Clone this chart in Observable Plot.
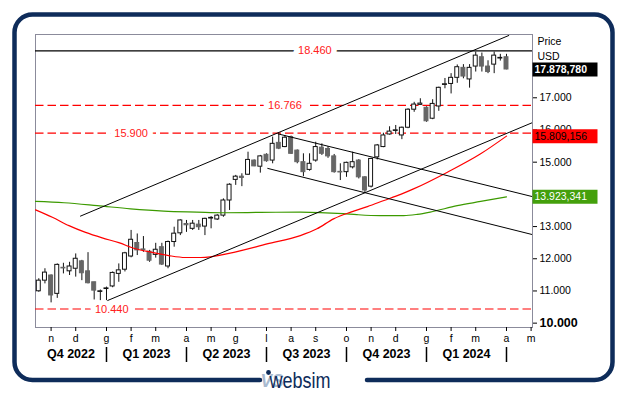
<!DOCTYPE html>
<html><head><meta charset="utf-8">
<script src="https://cdn.jsdelivr.net/npm/d3@7"></script>
<script src="https://cdn.jsdelivr.net/npm/@observablehq/plot@0.6"></script>
<style>
html,body{margin:0;padding:0;background:#fff;}
#chart{width:627px;height:394px;overflow:hidden;}
</style></head><body><div id="chart"></div>
<script>
// ---- data (weekly candles, Friday dates, starting 2022-10-21) ----
const firstWeek = "2022-10-21";
const open  = [10990,11320,11480,10910,11720,11610,11690,11920,11610,11270,10970,11060,11140,11530,11660,12070,12490,12290,12220,12120,12360,11760,12520,12790,13080,12930,13060,13000,13250,13220,13340,13810,14450,14550,14610,15050,14860,15230,15050,15600,15470,15780,15360,15000,14760,15050,15450,15410,15180,14700,14690,14840,15050,14530,14240,15150,15470,15860,15970,15830,16070,16630,16780,16690,16350,16730,17400,17430,17620,17930,17570,17970,18260,17970,18030,18220,18260];
const high  = [11380,11690,11500,11840,11860,11890,12150,11950,12190,11270,11030,11120,11590,11840,12200,12880,12770,12690,12260,12480,12480,12550,12980,13210,13190,13190,13190,13260,13310,13370,13860,14330,14590,14640,15310,15070,15210,15260,15780,15880,15830,15810,15380,15260,15260,15620,15570,15480,15240,14950,15000,15310,15080,14550,15120,15550,15900,16100,16140,16090,16660,16860,16970,16720,16940,17330,17600,17750,18020,18030,18030,18420,18390,18150,18420,18350,18350];
const low   = [10960,11220,10630,10770,11530,11480,11430,11320,11220,10720,10700,10700,11100,11270,11590,12030,12100,12200,11890,12020,11790,11690,12360,12720,12820,12880,12880,12720,12930,13190,13290,13500,14280,14240,14590,14860,14660,15000,14950,15390,15450,15240,14950,14550,14720,15000,15210,15120,14660,14430,14530,14790,14480,14040,14200,15070,15450,15840,15860,15700,16040,16550,16760,16240,16320,16580,17280,17120,17450,17590,17300,17800,17800,17750,17750,18140,17870];
const close = [11320,11570,10860,11810,11700,11760,12000,11550,11240,11010,10990,11080,11560,11640,12170,12590,12260,12270,11940,12280,11820,12520,12780,13190,13040,13090,12980,13240,13270,13340,13810,14300,14550,14510,15070,14870,15180,15030,15570,15420,15760,15260,15000,14690,14950,15470,15260,15180,14690,14680,14980,15000,14530,14120,15100,15520,15830,15950,15990,16070,16630,16790,16820,16270,16810,17310,17420,17620,17950,17660,17930,18310,17970,17800,18310,18240,17878.78];

// moving averages (week offset from first candle, value)
const redWeeks   = [-0.54,2.2,4.9,7.6,10.3,13,15.7,18.4,21.1,23.8,26.3,31.7,37.1,42.5,45.2,47.9,50.7,53.4,56.1,58.8,60.9,66.4,71.8,76];
const redValues  = [13520,13290,13030,12820,12650,12500,12310,12200,12100,12040,12040,12200,12460,12720,12930,13240,13450,13620,13810,14000,14170,14690,15260,15809.156];
const greenWeeks  = [-0.54,4.1,9.5,14.9,20.3,25.7,30,36,42.5,49.5,51.7,55.5,59.3,61.5,63.6,68,71.8,76];
const greenValues = [13780,13740,13650,13550,13480,13450,13430,13440,13450,13400,13370,13340,13340,13380,13450,13650,13780,13923.341];

// trend lines
const trendStart  = ["2022-12-07","2023-01-07","2023-07-20","2023-07-08"];
const trendStartV = [13320,10700,15880,14810];
const trendEnd    = ["2024-04-08","2024-05-04T14:00","2024-05-04T14:00","2024-05-04T14:00"];
const trendEndV   = [18940,16230,13930,12750];

// horizontal levels
const levelValues = [18460,16766,15900,10440];
const levelLabelDates = ["2023-08-31","2023-07-28","2023-02-03","2023-01-12"];
const levelColors = ["#000000","#ff0000","#ff0000","#ff0000"];
const levelDash = [null,"8.5,4","8.5,4","8.5,4"];

// axis
const yTicks = [11000,12000,13000,15000,16000,17000];
const yTickBold = [10000];
const monthDates = ["2022-11-04","2022-12-02","2023-01-06","2023-02-03","2023-03-03","2023-04-07","2023-05-05","2023-06-02","2023-07-07","2023-08-04","2023-09-01","2023-10-06","2023-11-03","2023-12-01","2024-01-05","2024-02-02","2024-03-01","2024-04-05","2024-05-03"];
const monthLetters = ["n","d","g","f","m","a","m","g","l","a","s","o","n","d","g","f","m","a","m"];
const quarterLabels = ["Q4 2022","Q1 2023","Q2 2023","Q3 2023","Q4 2023","Q1 2024"];
const quarterBreaks = ["2023-01-06","2023-04-07","2023-07-07","2023-10-06","2024-01-05","2024-04-05"];

// right-side value boxes
const boxValues = [17878.78, 15809.156, 13923.341];
const boxFill = ["#000000","#ff0000","#44a00c"];
const boxText = ["#ffffff","#000000","#ffffff"];
const boxWeight = ["bold","normal","normal"];

// ---- build ----
const it = d3.formatLocale({decimal:",", thousands:".", grouping:[3], currency:["","€"]});
const fmt0 = it.format(",.0f"), fmt3 = it.format(",.3f");
const start = new Date(firstWeek);
const candles = open.map((o,i)=>({date: d3.utcDay.offset(start, 7*i), open:o, high:high[i], low:low[i], close:close[i]}));
const wk = w => new Date(+start + w*7*864e5);
const redMA = redWeeks.map((w,i)=>({date: wk(w), v: redValues[i]}));
const greenMA = greenWeeks.map((w,i)=>({date: wk(w), v: greenValues[i]}));
const trends = trendStart.map((s,i)=>({x1:new Date(s), y1:trendStartV[i], x2:new Date(trendEnd[i]), y2:trendEndV[i]}));
const levels = levelValues.map((v,i)=>({v, date:new Date(levelLabelDates[i]), color:levelColors[i], dash:levelDash[i]}));
const xDomain = [new Date("2022-10-17T06:00Z"), new Date("2024-05-04T14:00Z")];
const mTimes = monthDates.map(d=>+new Date(d));
const letterBy = new Map(mTimes.map((t,i)=>[t, monthLetters[i]]));
const qb = quarterBreaks.map(d=>new Date(d));
const quarters = quarterLabels.map((label,i)=>{
  const a = i===0 ? xDomain[0] : qb[i-1], b = qb[i];
  return {label, mid: new Date((+a + +b)/2)};
});
const up = d => d.close >= d.open;

const marks = [
  Plot.frame({stroke:"#8b8b9b"}),
  Plot.axisX({ticks: mTimes.map(t=>new Date(t)), tickFormat: d=>letterBy.get(+d), tickSize:4, tickPadding:3, label:null, fontSize:10.5}),
  Plot.axisY({anchor:"right", ticks:yTicks, tickFormat:fmt0, tickSize:4, tickPadding:3, label:null, fontSize:10.5}),
  Plot.axisY({anchor:"right", ticks:yTickBold, tickFormat:fmt0, tickSize:4, tickPadding:3, label:null, fontSize:12.5, fontWeight:"bold"}),
  Plot.ruleX(qb, {x:d=>d, insetTop:313, insetBottom:-35, stroke:"#000", strokeWidth:1.5}),
  Plot.text(quarters, {x:"mid", text:"label", frameAnchor:"bottom", dy:26, lineAnchor:"middle", fontWeight:"bold", fontSize:12.5}),
  Plot.text(["Price"], {text:d=>d, frameAnchor:"top-right", dx:5, dy:7, lineAnchor:"middle", textAnchor:"start", fontSize:10.5}),
  Plot.text(["USD"], {text:d=>d, frameAnchor:"top-right", dx:5, dy:22.5, lineAnchor:"middle", textAnchor:"start", fontSize:10.5}),
  ...levels.map(l => Plot.ruleY([l.v], {stroke:l.color, strokeWidth:1.2, strokeDasharray:l.dash})),
  Plot.text(levels, {x:"date", y:"v", text:d=>fmt0(d.v), fill:"#ff2020", stroke:"white", strokeWidth:11, fontSize:11}),
  Plot.ruleX(candles, {x:"date", y1:"low", y2:"high", stroke:"#111", strokeWidth:1}),
  Plot.rect(candles, {x1:d=>d3.utcHour.offset(d.date,-54), x2:d=>d3.utcHour.offset(d.date,54), y1:"open", y2:"close",
    fill:d=>up(d)?"#ffffff":"#666666", stroke:d=>up(d)?"#111111":"#666666", strokeWidth:1}),
  Plot.line(greenMA, {x:"date", y:"v", stroke:"#3c9a00", strokeWidth:1.2, curve:"monotone-x", clip:true}),
  Plot.line(redMA, {x:"date", y:"v", stroke:"#ff0000", strokeWidth:1.2, curve:"monotone-x", clip:true}),
  Plot.link(trends, {x1:"x1", y1:"y1", x2:"x2", y2:"y2", stroke:"#000", strokeWidth:1, clip:true}),
  ...boxValues.map((v,i)=>Plot.ruleY([v], {stroke:boxFill[i], strokeWidth:14, insetLeft:497.5, insetRight:-65.5})),
  ...boxValues.map((v,i)=>Plot.text([v], {y:d=>d, text:d=>fmt3(d), frameAnchor:"right", dx:2, textAnchor:"start", fill:boxText[i], fontWeight:boxWeight[i], fontSize:10.5}))
];

const chart = Plot.plot({
  width:627, height:394,
  marginLeft:35, marginRight:95, marginTop:34, marginBottom:67,
  style:{fontFamily:"'Liberation Sans', Arial, sans-serif", fontSize:"10.5px", color:"#000", background:"#fff", overflow:"visible"},
  x:{type:"utc", domain:xDomain},
  y:{domain:[9865,18966]},
  marks
});
document.getElementById("chart").appendChild(chart);

// outer rounded frame with logo gap
const svg = d3.select(chart);
const L=14.5, T=14.5, R=612.5, B=380, r=18;
svg.append("path")
  .attr("d", `M260,${B} L${L+r},${B} A${r},${r} 0 0 1 ${L},${B-r} L${L},${T+r} A${r},${r} 0 0 1 ${L+r},${T} L${R-r},${T} A${r},${r} 0 0 1 ${R},${T+r} L${R},${B-r} A${r},${r} 0 0 1 ${R-r},${B} L367,${B}`)
  .attr("fill","none").attr("stroke","#0e2c5a").attr("stroke-width",4.5).attr("stroke-linecap","round");
svg.append("circle").attr("cx",268.5).attr("cy",372.5).attr("r",2.4).attr("fill","#0e2c5a");
svg.append("text").attr("x",272).attr("y",387).text("VS")
  .attr("font-family","'Liberation Sans', Arial, sans-serif").attr("font-size",19).attr("font-style","italic").attr("font-weight","bold")
  .attr("fill","#a9bad0").attr("textLength",23).attr("lengthAdjust","spacingAndGlyphs");
svg.append("text").attr("x",300).attr("y",388).text("websim")
  .attr("font-family","'Liberation Sans', Arial, sans-serif").attr("font-size",22)
  .attr("fill","#0e2c5a").attr("textLength",61).attr("lengthAdjust","spacingAndGlyphs");
</script>
</body></html>
